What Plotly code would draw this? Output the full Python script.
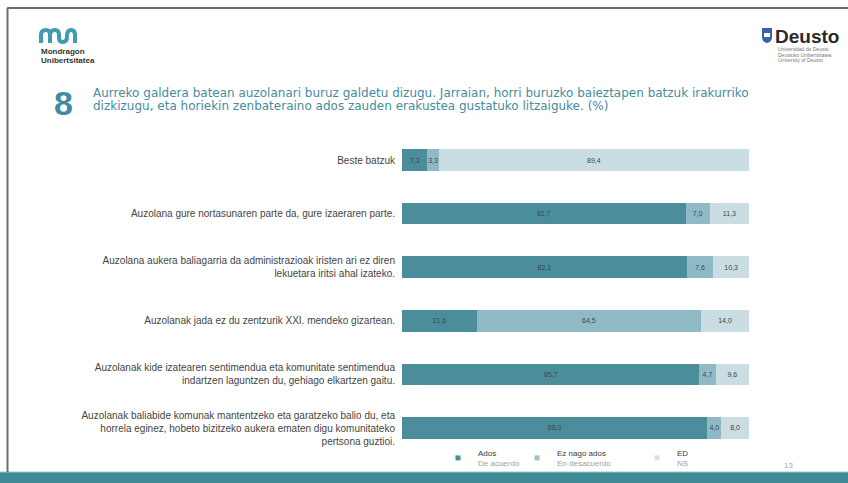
import plotly.graph_objects as go

W, H = 848, 483

categories = [
    "Beste batzuk",
    "Auzolana gure nortasunaren parte da, gure izaeraren parte.",
    "Auzolana aukera baliagarria da administrazioak iristen ari ez diren<br>lekuetara iritsi ahal izateko.",
    "Auzolanak jada ez du zentzurik XXI. mendeko gizartean.",
    "Auzolanak kide izatearen sentimendua eta komunitate sentimendua<br>indartzen laguntzen du, gehiago elkartzen gaitu.",
    "Auzolanak baliabide komunak mantentzeko eta garatzeko balio du, eta<br>horrela eginez, hobeto bizitzeko aukera ematen digu komunitateko<br>pertsona guztioi.",
]
ados = [7.3, 81.7, 82.1, 21.6, 85.7, 88.0]
ez_nago_ados = [3.3, 7.0, 7.6, 64.5, 4.7, 4.0]
ed = [89.4, 11.3, 10.3, 14.0, 9.6, 8.0]

series_names = ["Ados", "Ez nago ados", "ED"]
series_sub = ["De acuerdo", "En desacuerdo", "NS"]
series_vals = [ados, ez_nago_ados, ed]
colors = ["#4b8d9b", "#8fb9c4", "#c9dde3"]
legend_marker_colors = ["#4b8d9b", "#9cc4c8", "#d5e2e5"]

title_lines = [
    "Aurreko galdera batean auzolanari buruz galdetu dizugu. Jarraian, horri buruzko baieztapen batzuk irakurriko",
    "dizkizugu, eta horiekin zenbateraino ados zauden erakustea gustatuko litzaiguke. (%)",
]

def fmt(v):
    return f"{v:.1f}".replace(".", ",")

fig = go.Figure()
legend_ids = ["legend", "legend2", "legend3"]
for name, sub, vals, col, lcol, lid in zip(series_names, series_sub, series_vals, colors, legend_marker_colors, legend_ids):
    fig.add_trace(go.Bar(
        y=categories, x=vals, orientation="h", name=name,
        marker=dict(color=col, line=dict(width=0)),
        text=[fmt(v) for v in vals], textposition="inside",
        insidetextanchor="middle", textangle=0,
        textfont=dict(size=7, color="#3a4a4f", family="Liberation Sans, Arial"),
        showlegend=False, hoverinfo="skip",
    ))
    fig.add_trace(go.Scatter(
        x=[None], y=[None], mode="markers",
        marker=dict(symbol="square", size=5, color=lcol),
        name=f"<span style='color:#3a3a3a'>{name}</span><br><span style='color:#a0a0a0'>{sub}</span>",
        legend=lid, showlegend=True,
    ))

top_px, bot_px = 133.2, 454.8
fig.update_layout(
    width=W, height=H,
    margin=dict(l=0, r=0, t=0, b=0),
    paper_bgcolor="white", plot_bgcolor="rgba(0,0,0,0)",
    barmode="stack", bargap=0.6,
    font=dict(family="Liberation Sans, Arial", color="#444"),
    xaxis=dict(domain=[402 / W, 749 / W], range=[0, 100], visible=False, fixedrange=True),
    yaxis=dict(domain=[1 - bot_px / H, 1 - top_px / H], autorange="reversed",
               showgrid=False, showline=False, ticks="", zeroline=False,
               tickfont=dict(size=10, color="#454545", family="Liberation Sans, Arial"),
               ticklabelstandoff=6),
    xaxis2=dict(domain=[0, 1], range=[0, W], visible=False, anchor="y2"),
    yaxis2=dict(domain=[0, 1], range=[H, 0], visible=False, anchor="x2"),
    uniformtext=dict(minsize=7, mode="show"),
)

leg_common = dict(orientation="v", bgcolor="rgba(0,0,0,0)", borderwidth=0,
                  font=dict(size=8, family="Liberation Sans, Arial"),
                  xanchor="left", yanchor="top", itemwidth=30, tracegroupgap=0)
fig.update_layout(
    legend=dict(x=438 / W, y=1 - 441 / H, **leg_common),
    legend2=dict(x=517 / W, y=1 - 441 / H, **leg_common),
    legend3=dict(x=637 / W, y=1 - 441 / H, **leg_common),
)

shapes = []
shapes.append(dict(type="rect", xref="x2", yref="y2", x0=0, x1=W, y0=472, y1=H,
                   fillcolor="#3f8b98", line=dict(width=0), layer="above"))
shapes.append(dict(type="line", xref="x2", yref="y2", x0=0, x1=W, y0=472, y1=472,
                   line=dict(color="#9cc6cd", width=1)))
shapes.append(dict(type="line", xref="x2", yref="y2", x0=7, x1=W, y0=8, y1=8,
                   line=dict(color="#6e6e6e", width=2)))
shapes.append(dict(type="line", xref="x2", yref="y2", x0=7.5, x1=7.5, y0=8, y1=472,
                   line=dict(color="#6e6e6e", width=2)))
shapes.append(dict(type="path", xref="x2", yref="y2",
                   path="M 41 43 L 41 35 Q 41 30 46 30 Q 50 30 50 35 L 50 43 M 50 35 Q 50 30 55 30 Q 59 30 59 35 L 59 38 Q 59 42 63 42 Q 67 42 67 36 Q 67 30 71 30 Q 75 30 75 35 L 75 43",
                   line=dict(color="#3f9bb0", width=4)))
shapes.append(dict(type="path", xref="x2", yref="y2",
                   path="M 762 28 L 772 28 L 772 37 Q 772 42 767 43 Q 762 42 762 37 Z",
                   fillcolor="#3b5fa8", line=dict(width=0)))
shapes.append(dict(type="rect", xref="x2", yref="y2", x0=764, x1=770, y0=33, y1=37,
                   fillcolor="#ffffff", line=dict(width=0)))
fig.update_layout(shapes=shapes)

ann = []
ann.append(dict(xref="x2", yref="y2", x=39, y=51, text="<b>Mondragon</b>", showarrow=False,
                xanchor="left", yanchor="middle", font=dict(size=8, color="#333")))
ann.append(dict(xref="x2", yref="y2", x=39, y=60, text="<b>Unibertsitatea</b>", showarrow=False,
                xanchor="left", yanchor="middle", font=dict(size=8, color="#333")))
ann.append(dict(xref="x2", yref="y2", x=773, y=36, text="<b>Deusto</b>", showarrow=False,
                xanchor="left", yanchor="middle", font=dict(size=19, color="#2a2a2a")))
for i, t in enumerate(["Universidad de Deusto", "Deustuko Unibertsitatea", "University of Deusto"]):
    ann.append(dict(xref="x2", yref="y2", x=776, y=49 + i * 5.5, text=t, showarrow=False,
                    xanchor="left", yanchor="middle", font=dict(size=5, color="#777")))
ann.append(dict(xref="x2", yref="y2", x=63, y=103, text="<b>8</b>", showarrow=False,
                xanchor="center", yanchor="middle",
                font=dict(size=34, color="#3f8c9c", family="Liberation Sans, Arial")))
for i, t in enumerate(title_lines):
    ann.append(dict(xref="x2", yref="y2", x=91, y=93 + i * 13, text=t, showarrow=False,
                    xanchor="left", yanchor="middle",
                    font=dict(size=12, color="#468c9f", family="DejaVu Sans")))
ann.append(dict(xref="x2", yref="y2", x=788, y=465, text="13", showarrow=False,
                xanchor="center", yanchor="middle", font=dict(size=8, color="#aaa")))
fig.update_layout(annotations=ann)

fig.write_html("out.html", config={"displayModeBar": False},
               post_script="document.body.style.margin='0';document.body.style.overflow='hidden';")
